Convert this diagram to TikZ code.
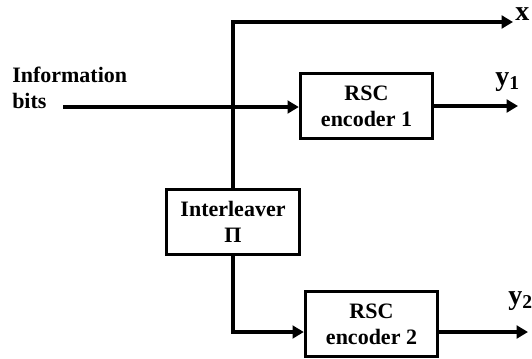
\documentclass[tikz,border=0pt]{standalone}
\usepackage{fontspec}
\setmainfont{Liberation Serif}
\usetikzlibrary{arrows.meta,positioning}

\tikzset{
  blk/.style={draw, line width=2.5pt, minimum width=99pt, minimum height=49pt,
    align=center, inner sep=2pt},
  sig/.style={line width=2.6pt, -{Triangle[length=8.5pt,width=9.5pt]}},
  lbl/.style={anchor=base west, inner sep=0pt, font=\fontsize{21}{24}\selectfont\bfseries},
}

\begin{document}
\begin{tikzpicture}[x=0.75pt,y=-0.75pt,font=\fontsize{16.5}{19.5}\selectfont\bfseries]
  \useasboundingbox (0,0) rectangle (532,358);

  % Bloques
  \node[blk] (enc1) at (366.5,106) {RSC\\encoder 1};
  \node[blk, minimum width=100pt] (intl) at (233,222) {Interleaver\\Π};
  \node[blk] (enc2) at (371.5,324) {RSC\\encoder 2};

  % Entrada
  \node[align=left, anchor=north west, inner sep=0pt] (info) at (12,67) {Information\\bits};
  \coordinate (src) at (63,107);
  \coordinate (xend) at (513,22);
  \coordinate (y1end) at (518,106);
  \coordinate (y2end) at (528,332);

  % Conexiones
  \draw[sig] (src) -- (src -| enc1.west);
  \draw[sig] (intl.north) |- (xend);
  \draw[sig] (intl.south) |- ([yshift=-6pt]enc2.west);
  \draw[sig] (enc1.east) -- (y1end);
  \draw[sig] ([yshift=-6pt]enc2.east) -- (y2end);

  % Salidas
  \node[lbl] (xlbl) at (515,20) {x};
  \node[lbl] (y1lbl) at (495,85) {y\textsubscript{1}};
  \node[lbl] (y2lbl) at (508,304) {y\textsubscript{2}};

\end{tikzpicture}
\end{document}
